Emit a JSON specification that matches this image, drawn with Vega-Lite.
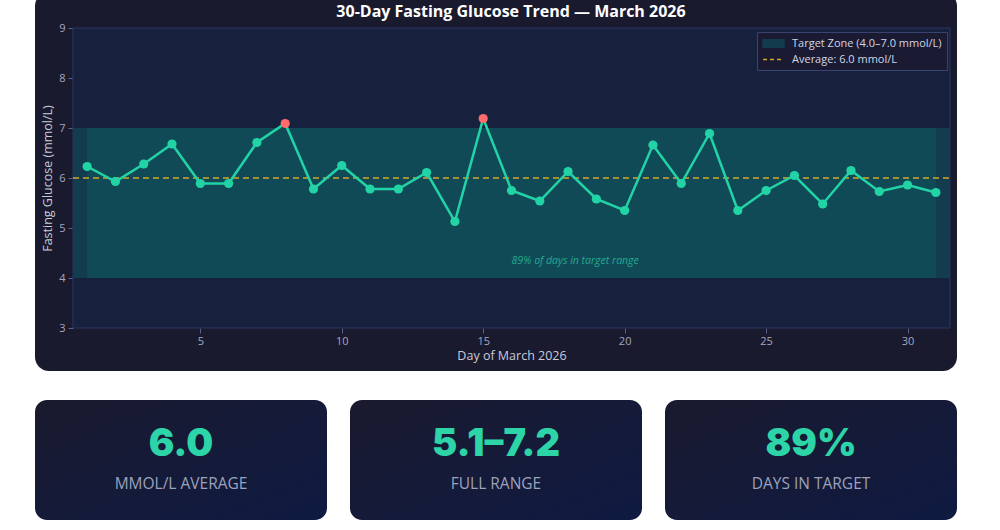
{
  "$schema": "https://vega.github.io/schema/vega-lite/v6.json",
  "background": "white",
  "padding": {"left": 35, "top": -8, "right": 0, "bottom": 0},
  "config": {"font": "Open Sans", "view": {"stroke": null}},
  "datasets": {
    "frame": [{"x0": 0.5, "x1": 31.5, "y0": 3, "y1": 9}],
    "zone": [{"x0": 0.5, "x1": 31.5, "y0": 4, "y1": 7, "series": "Target Zone (4.0–7.0 mmol/L)"}],
    "zoneDays": [{"x0": 1, "x1": 31, "y0": 4, "y1": 7}],
    "avg": [{"x0": 0.5, "x1": 31.5, "y": 6.0, "series": "Average: 6.0 mmol/L"}],
    "readings": [
      {"day": 1, "glucose": 6.23}, {"day": 2, "glucose": 5.93}, {"day": 3, "glucose": 6.28},
      {"day": 4, "glucose": 6.68}, {"day": 5, "glucose": 5.89}, {"day": 6, "glucose": 5.89},
      {"day": 7, "glucose": 6.71}, {"day": 8, "glucose": 7.09}, {"day": 9, "glucose": 5.78},
      {"day": 10, "glucose": 6.25}, {"day": 11, "glucose": 5.78}, {"day": 12, "glucose": 5.78},
      {"day": 13, "glucose": 6.11}, {"day": 14, "glucose": 5.13}, {"day": 15, "glucose": 7.19},
      {"day": 16, "glucose": 5.75}, {"day": 17, "glucose": 5.54}, {"day": 18, "glucose": 6.13},
      {"day": 19, "glucose": 5.58}, {"day": 20, "glucose": 5.35}, {"day": 21, "glucose": 6.66},
      {"day": 22, "glucose": 5.89}, {"day": 23, "glucose": 6.89}, {"day": 24, "glucose": 5.35},
      {"day": 25, "glucose": 5.75}, {"day": 26, "glucose": 6.05}, {"day": 27, "glucose": 5.48},
      {"day": 28, "glucose": 6.15}, {"day": 29, "glucose": 5.73}, {"day": 30, "glucose": 5.86},
      {"day": 31, "glucose": 5.71}
    ],
    "note": [{"x": 16, "y": 4.35, "text": "89% of days in target range"}],
    "kpis": [
      {"card": "avg", "value": "6.0", "label": "MMOL/L AVERAGE"},
      {"card": "range", "value": "5.1–7.2", "label": "FULL RANGE"},
      {"card": "target", "value": "89%", "label": "DAYS IN TARGET"}
    ]
  },
  "spacing": 29,
  "vconcat": [
    {
      "width": 922,
      "height": 379,
      "view": {"fill": "#1a1a2e", "cornerRadius": 14, "stroke": null},
      "title": {
        "text": "30-Day Fasting Glucose Trend — March 2026",
        "anchor": "middle",
        "dx": 15,
        "offset": -28,
        "fontSize": 16,
        "fontWeight": "bold",
        "color": "#ffffff",
        "font": "Open Sans"
      },
      "layer": [
        {
          "data": {"name": "frame"},
          "mark": {"type": "rect", "fill": "#16213e", "stroke": "#2c3560", "strokeWidth": 1},
          "encoding": {
            "x": {
              "field": "x0", "type": "quantitative",
              "scale": {"domain": [0.5, 31.5], "range": [38, 915], "nice": false, "zero": false},
              "axis": {
                "orient": "bottom", "offset": -43, "values": [5, 10, 15, 20, 25, 30], "format": "d",
                "title": "Day of March 2026", "grid": false, "domain": false,
                "tickSize": 5, "tickColor": "#59608a", "labelPadding": 2,
                "labelColor": "#a3a7bf", "labelFontSize": 11,
                "titleColor": "#c8cbda", "titleFontSize": 12.5, "titleFontWeight": "normal", "titlePadding": 3
              }
            },
            "x2": {"field": "x1"},
            "y": {
              "field": "y0", "type": "quantitative",
              "scale": {"domain": [3, 9], "range": [336, 36], "nice": false, "zero": false},
              "axis": {
                "orient": "left", "offset": -38, "values": [3, 4, 5, 6, 7, 8, 9], "format": "d",
                "title": "Fasting Glucose (mmol/L)", "grid": false, "domain": false,
                "tickSize": 5, "tickColor": "#59608a", "labelPadding": 3,
                "labelColor": "#a3a7bf", "labelFontSize": 11,
                "titleColor": "#c8cbda", "titleFontSize": 12.5, "titleFontWeight": "normal",
                "titleX": -26, "titleBaseline": "middle"
              }
            },
            "y2": {"field": "y1"}
          }
        },
        {
          "data": {"name": "zone"},
          "mark": {"type": "rect"},
          "encoding": {
            "x": {"field": "x0", "type": "quantitative", "title": "Day of March 2026"},
            "x2": {"field": "x1"},
            "y": {"field": "y0", "type": "quantitative", "title": "Fasting Glucose (mmol/L)"},
            "y2": {"field": "y1"},
            "color": {
              "field": "series", "type": "nominal",
              "scale": {
                "domain": ["Target Zone (4.0–7.0 mmol/L)", "Average: 6.0 mmol/L"],
                "range": ["#133d4e", "#d4a82a"]
              },
              "legend": {
                "title": null, "orient": "none", "legendX": 722, "legendY": 40,
                "fillColor": "#1a1b33", "strokeColor": "#3a4270", "padding": 5,
                "labelColor": "#d2d5e2", "labelFontSize": 11, "labelFont": "Open Sans",
                "symbolSize": 121, "symbolOffset": 5, "rowPadding": 2, "labelOffset": 12,
                "encode": {
                  "symbols": {
                    "update": {
                      "shape": [
                        {"test": "datum.value === 'Average: 6.0 mmol/L'", "value": "M-1.9,0H1.9"},
                        {"value": "M-1.9,-0.7H1.9V0.7H-1.9Z"}
                      ],
                      "fill": [
                        {"test": "datum.value === 'Average: 6.0 mmol/L'", "value": "transparent"},
                        {"value": "#1d4b59"}
                      ],
                      "stroke": [
                        {"test": "datum.value === 'Average: 6.0 mmol/L'", "value": "#d4a82a"},
                        {"value": "transparent"}
                      ],
                      "strokeDash": [
                        {"test": "datum.value === 'Average: 6.0 mmol/L'", "value": [4, 3]},
                        {"value": []}
                      ],
                      "strokeWidth": {"value": 1.5},
                      "opacity": {"value": 1}
                    }
                  }
                }
              }
            }
          }
        },
        {
          "data": {"name": "zoneDays"},
          "mark": {"type": "rect", "fill": "#114a57"},
          "encoding": {
            "x": {"field": "x0", "type": "quantitative", "title": "Day of March 2026"},
            "x2": {"field": "x1"},
            "y": {"field": "y0", "type": "quantitative", "title": "Fasting Glucose (mmol/L)"},
            "y2": {"field": "y1"}
          }
        },
        {
          "data": {"name": "avg"},
          "mark": {"type": "rule", "strokeDash": [6, 4], "strokeWidth": 1.5},
          "encoding": {
            "x": {"field": "x0", "type": "quantitative", "title": "Day of March 2026"},
            "x2": {"field": "x1"},
            "y": {"field": "y", "type": "quantitative", "title": "Fasting Glucose (mmol/L)"},
            "color": {"field": "series", "type": "nominal"}
          }
        },
        {
          "data": {"name": "readings"},
          "mark": {"type": "line", "stroke": "#22d3a6", "strokeWidth": 2.5},
          "encoding": {
            "x": {"field": "day", "type": "quantitative", "title": "Day of March 2026"},
            "y": {"field": "glucose", "type": "quantitative", "title": "Fasting Glucose (mmol/L)"}
          }
        },
        {
          "data": {"name": "readings"},
          "mark": {"type": "circle", "size": 85, "opacity": 1},
          "encoding": {
            "x": {"field": "day", "type": "quantitative", "title": "Day of March 2026"},
            "y": {"field": "glucose", "type": "quantitative", "title": "Fasting Glucose (mmol/L)"},
            "fill": {
              "condition": {"test": "datum.glucose > 7", "value": "#ff6b6b"},
              "value": "#22d3a6"
            }
          }
        },
        {
          "data": {"name": "note"},
          "mark": {"type": "text", "align": "left", "baseline": "middle", "fontStyle": "italic", "fontSize": 10.5, "color": "#2cc7a2", "opacity": 0.75},
          "encoding": {
            "x": {"field": "x", "type": "quantitative", "title": "Day of March 2026"},
            "y": {"field": "y", "type": "quantitative", "title": "Fasting Glucose (mmol/L)"},
            "text": {"field": "text"}
          }
        }
      ]
    },
    {
      "width": 922,
      "height": 120,
      "view": {"stroke": null},
      "data": {"name": "kpis"},
      "encoding": {
        "x": {
          "field": "card", "type": "nominal", "sort": null, "axis": null,
          "scale": {"paddingInner": 0.073, "paddingOuter": 0}
        }
      },
      "layer": [
        {
          "mark": {
            "type": "bar", "cornerRadius": 12,
            "fill": {
              "gradient": "linear", "x1": 0, "y1": 0, "x2": 1, "y2": 1,
              "stops": [{"offset": 0, "color": "#1a1a2e"}, {"offset": 1, "color": "#0f1a42"}]
            }
          }
        },
        {
          "mark": {"type": "text", "font": "Inter", "fontWeight": 900, "fontSize": 38, "color": "#2dd4a7", "dy": -15},
          "encoding": {"text": {"field": "value"}}
        },
        {
          "mark": {"type": "text", "font": "Open Sans", "fontSize": 15.5, "color": "#9ca2bb", "dy": 24},
          "encoding": {"text": {"field": "label"}}
        }
      ]
    }
  ]
}
